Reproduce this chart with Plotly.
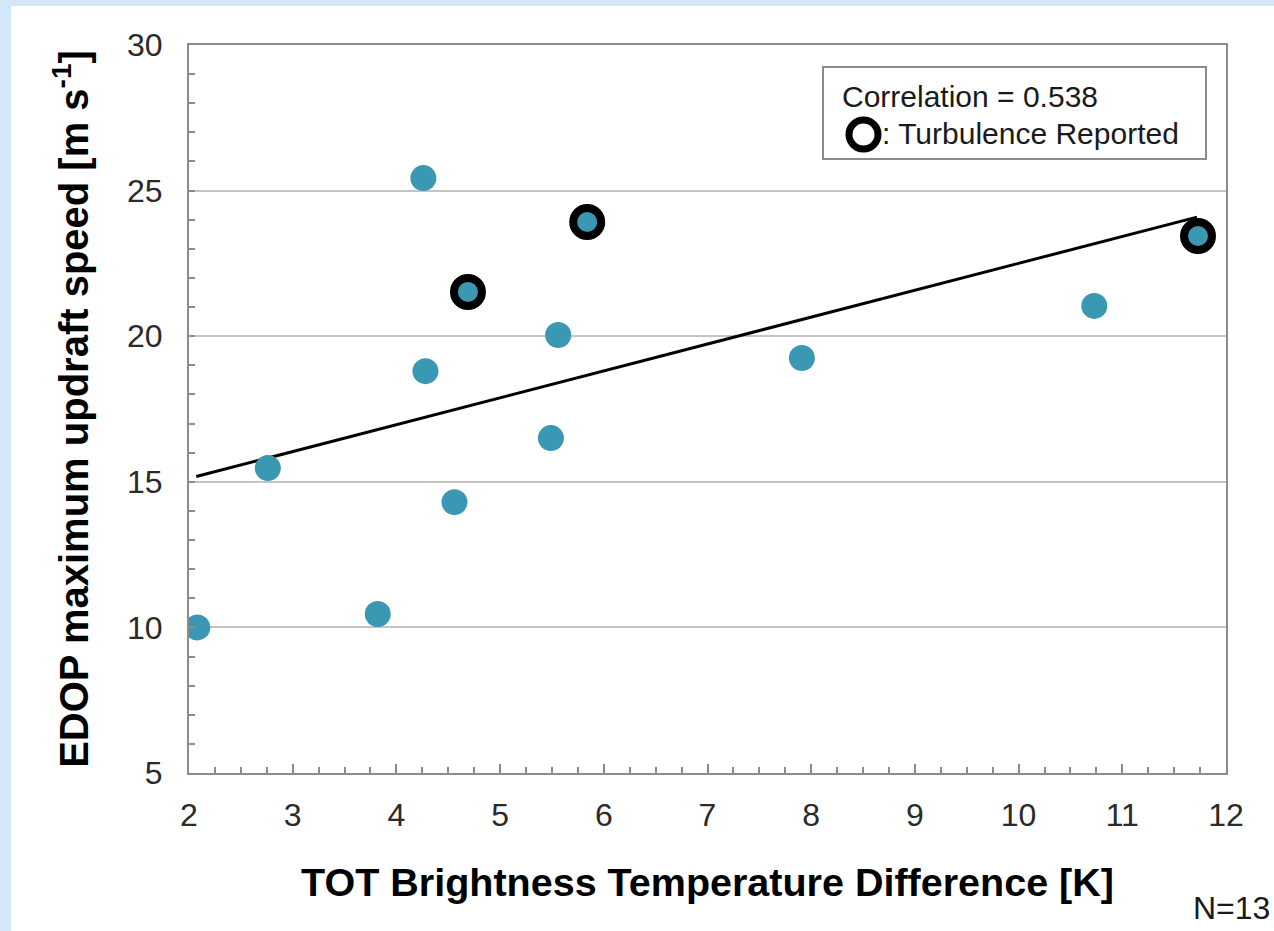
import plotly.graph_objects as go

# ---- data ----
tbd_all = [2.08, 2.76, 3.82, 4.26, 4.28, 4.56, 5.49, 5.56, 7.91, 10.73]
upd_all = [10.0, 15.47, 10.46, 25.43, 18.8, 14.3, 16.5, 20.04, 19.25, 21.04]
tbd_turb = [4.69, 5.84, 11.73]
upd_turb = [21.52, 23.92, 23.44]
trend_x = [2.07, 11.72]
trend_y = [15.18, 24.09]
x_ticks = [2, 3, 4, 5, 6, 7, 8, 9, 10, 11, 12]
y_ticks = [5, 10, 15, 20, 25, 30]
corr_text = "Correlation = 0.538"
legend_text = ": Turbulence Reported"
n_text = "N=13"

W, H = 1274, 931
ML, MR, MT, MB = 189, 48, 45, 158
PW, PH = W - ML - MR, H - MT - MB
FONT = "Liberation Sans, Arial, Helvetica, sans-serif"
TEAL = "#3a98b2"


def px(x):
    return (x - ML) / PW


def py(y):
    return (H - MB - y) / PH


fig = go.Figure()
fig.add_trace(go.Scatter(x=trend_x, y=trend_y, mode="lines",
                         line=dict(color="black", width=3), showlegend=False,
                         hoverinfo="skip"))
fig.add_trace(go.Scatter(x=tbd_all, y=upd_all, mode="markers",
                         marker=dict(color=TEAL, size=26, line=dict(width=0)),
                         showlegend=False))
fig.add_trace(go.Scatter(x=tbd_turb, y=upd_turb, mode="markers",
                         marker=dict(color=TEAL, size=28,
                                     line=dict(color="black", width=8)),
                         showlegend=False))

axis_common = dict(showline=True, linecolor="#8c8c8c", linewidth=2, mirror=True,
                   ticks="inside", tickcolor="#8c8c8c", tickwidth=2,
                   zeroline=False, tickfont=dict(family=FONT, size=32, color="#2a2a2a"))

fig.update_xaxes(range=[2, 12], tickvals=x_ticks, ticklen=9, showgrid=False,
                 minor=dict(dtick=0.25, ticks="inside", ticklen=6, tickcolor="#8c8c8c",
                            tickwidth=2, showgrid=False),
                 ticklabelstandoff=13,
                 title=dict(text="<b>TOT Brightness Temperature Difference [K]</b>",
                            font=dict(family=FONT, size=39.5, color="black"), standoff=36),
                 **axis_common)
fig.update_yaxes(range=[5, 30], tickvals=y_ticks, ticklen=6, showgrid=True,
                 gridcolor="#c4c4c4", gridwidth=2,
                 minor=dict(dtick=1, ticks="inside", ticklen=6, tickcolor="#8c8c8c",
                            tickwidth=2, showgrid=False),
                 ticklabelstandoff=18,
                 title=dict(text="<b>EDOP maximum updraft speed [m s<sup>-1</sup>]</b>",
                            font=dict(family=FONT, size=40, color="black"), standoff=26),
                 **axis_common)

shapes = [
    # white panel on the light blue page
    dict(type="rect", xref="paper", yref="paper", layer="below",
         x0=px(11), x1=px(W + 5), y0=py(H + 5), y1=py(6),
         fillcolor="white", line=dict(width=0)),
    # legend box
    dict(type="rect", xref="paper", yref="paper",
         x0=px(823), x1=px(1206), y0=py(159), y1=py(67),
         fillcolor="white", line=dict(color="#8c8c8c", width=2)),
    # legend ring
    dict(type="circle", xref="paper", yref="paper",
         x0=px(849), x1=px(878), y0=py(149), y1=py(120),
         fillcolor="white", line=dict(color="black", width=7)),
]

annotations = [
    dict(text=corr_text, xref="paper", yref="paper", x=px(840), y=py(97),
         xanchor="left", yanchor="middle", showarrow=False,
         font=dict(family=FONT, size=30, color="#1a1a1a")),
    dict(text=legend_text, xref="paper", yref="paper", x=px(880), y=py(133),
         xanchor="left", yanchor="middle", showarrow=False,
         font=dict(family=FONT, size=30, color="#1a1a1a")),
    dict(text=n_text, xref="paper", yref="paper", x=px(1191), y=py(908),
         xanchor="left", yanchor="middle", showarrow=False,
         font=dict(family=FONT, size=32, color="#1a1a1a")),
]

fig.update_layout(width=W, height=H, margin=dict(l=ML, r=MR, t=MT, b=MB),
                  paper_bgcolor="#d3e7f7", plot_bgcolor="white",
                  shapes=shapes, annotations=annotations, showlegend=False)

fig.write_html("out.html")
